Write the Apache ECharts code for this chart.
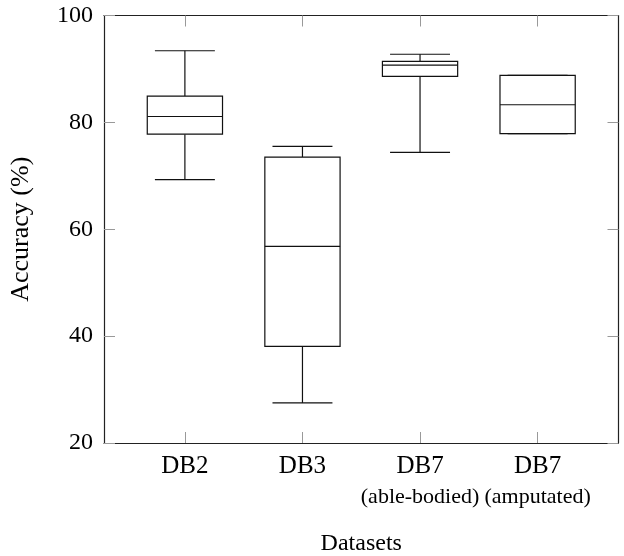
<!DOCTYPE html>
<html>
<head>
<meta charset="utf-8">
<script src="https://cdn.jsdelivr.net/npm/echarts@6/dist/echarts.min.js"></script>
<style>
html,body{margin:0;padding:0;background:#fff;}
#chart{width:624px;height:556px;}
</style>
</head>
<body>
<div id="chart"></div>
<script>
var categories = ['DB2', 'DB3', 'DB7', 'DB7'];
var subtitles = ['', '', '(able-bodied)', '(amputated)'];
var lowerWhisker = [69.3, 27.5, 74.4, 77.9];
var q1 = [77.8, 38.1, 88.6, 77.9];
var median = [81.1, 56.8, 90.7, 83.3];
var q3 = [84.9, 73.5, 91.4, 88.8];
var upperWhisker = [93.4, 75.5, 92.75, 88.8];
var yTicks = [20, 40, 60, 80, 100];
var xPositions = [0, 1, 2, 3];

var FONT = '"Liberation Serif", "Times New Roman", serif';

var data = categories.map(function (c, i) {
  return [xPositions[i], lowerWhisker[i], q1[i], median[i], q3[i], upperWhisker[i]];
});

function renderItem(params, api) {
  var idx = api.value(0);
  var bw = api.size([1, 0])[0];
  var boxW = bw * 0.64;
  var capW = bw * 0.51;
  var pLow = api.coord([idx, api.value(1)]);
  var pQ1 = api.coord([idx, api.value(2)]);
  var pMed = api.coord([idx, api.value(3)]);
  var pQ3 = api.coord([idx, api.value(4)]);
  var pHigh = api.coord([idx, api.value(5)]);
  var cx = pQ1[0];
  var st = { stroke: '#111', lineWidth: 1.2, fill: null };
  return {
    type: 'group',
    children: [
      { type: 'line', shape: { x1: cx, y1: pHigh[1], x2: cx, y2: pQ3[1] }, style: st },
      { type: 'line', shape: { x1: cx, y1: pQ1[1], x2: cx, y2: pLow[1] }, style: st },
      { type: 'line', shape: { x1: cx - capW / 2, y1: pHigh[1], x2: cx + capW / 2, y2: pHigh[1] }, style: st },
      { type: 'line', shape: { x1: cx - capW / 2, y1: pLow[1], x2: cx + capW / 2, y2: pLow[1] }, style: st },
      { type: 'rect', shape: { x: cx - boxW / 2, y: pQ3[1], width: boxW, height: pQ1[1] - pQ3[1] }, style: { stroke: '#111', lineWidth: 1.2, fill: '#fff' } },
      { type: 'line', shape: { x1: cx - boxW / 2, y1: pMed[1], x2: cx + boxW / 2, y2: pMed[1] }, style: st }
    ]
  };
}

var chart = echarts.init(document.getElementById('chart'), null, { renderer: 'canvas' });
var axisLineStyle = { color: '#222', width: 1.2 };
var tickStyle = { show: true, inside: true, length: 11, lineStyle: { color: '#999', width: 1 } };
var xMin = -0.688, xMax = 3.688;
chart.setOption({
  animation: false,
  backgroundColor: '#fff',
  grid: { left: 104, right: 5.5, top: 15.5, bottom: 113, containLabel: false, outerBoundsMode: 'none' },
  xAxis: [
    {
      type: 'value',
      min: xMin,
      max: xMax,
      position: 'bottom',
      axisLine: { show: true, onZero: false, lineStyle: axisLineStyle },
      axisTick: { show: true, inside: true, length: 11, customValues: xPositions, lineStyle: { color: '#999', width: 1 } },
      axisLabel: {
        margin: 7,
        customValues: xPositions,
        color: '#000',
        formatter: function (v) {
          var i = xPositions.indexOf(Math.round(v));
          if (i < 0) return '';
          return subtitles[i] ? '{a|' + categories[i] + '}\n{b|' + subtitles[i] + '}' : '{a|' + categories[i] + '}';
        },
        rich: {
          a: { fontFamily: FONT, fontSize: 25, lineHeight: 32, color: '#000' },
          b: { fontFamily: FONT, fontSize: 22, lineHeight: 30, color: '#000' }
        }
      },
      name: 'Datasets',
      nameLocation: 'middle',
      nameGap: 89,
      nameTextStyle: { fontFamily: FONT, fontSize: 24, color: '#000' },
      splitLine: { show: false }
    },
    {
      type: 'value',
      min: xMin,
      max: xMax,
      position: 'top',
      axisLine: { show: true, onZero: false, lineStyle: axisLineStyle },
      axisTick: { show: true, inside: true, length: 11, customValues: xPositions, lineStyle: { color: '#999', width: 1 } },
      axisLabel: { show: false },
      splitLine: { show: false }
    }
  ],
  yAxis: [
    {
      type: 'value',
      min: yTicks[0],
      max: yTicks[yTicks.length - 1],
      interval: 20,
      position: 'left',
      axisLine: { show: true, onZero: false, lineStyle: axisLineStyle },
      axisTick: tickStyle,
      axisLabel: { margin: 11, color: '#000', fontFamily: FONT, fontSize: 24 },
      splitLine: { show: false },
      name: 'Accuracy (%)',
      nameLocation: 'middle',
      nameGap: 70,
      nameRotate: 90,
      nameTextStyle: { fontFamily: FONT, fontSize: 26, color: '#000' }
    },
    {
      type: 'value',
      min: yTicks[0],
      max: yTicks[yTicks.length - 1],
      interval: 20,
      position: 'right',
      axisLine: { show: true, onZero: false, lineStyle: axisLineStyle },
      axisTick: tickStyle,
      axisLabel: { show: false },
      splitLine: { show: false }
    }
  ],
  series: [
    {
      type: 'custom',
      renderItem: renderItem,
      encode: { x: 0, y: [1, 2, 3, 4, 5] },
      data: data
    }
  ]
});
</script>
</body>
</html>
